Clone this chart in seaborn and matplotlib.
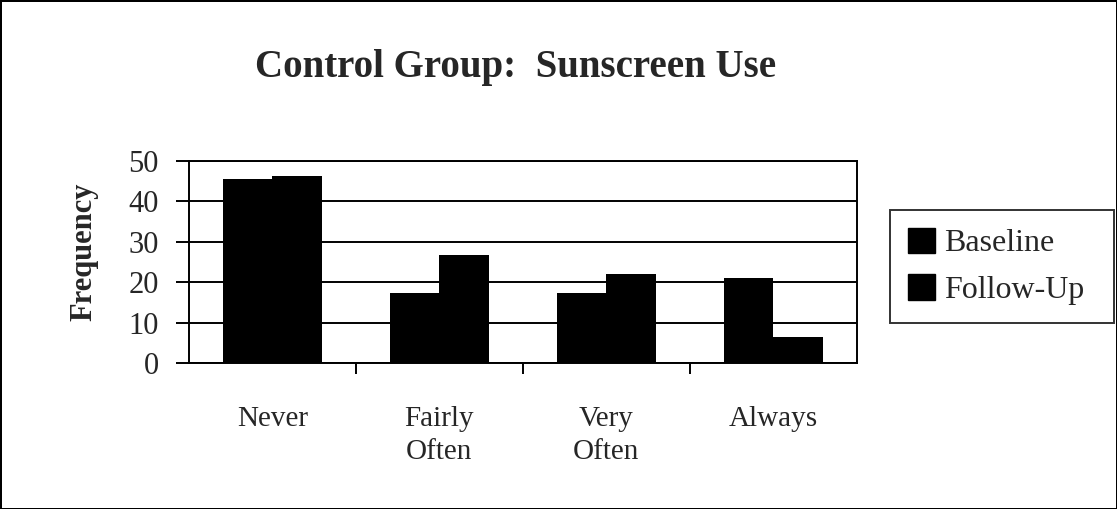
import numpy as np
import pandas as pd
import matplotlib
matplotlib.use("Agg")
import matplotlib.pyplot as plt
import seaborn as sns

categories = ["Never", "Fairly\nOften", "Very\nOften", "Always"]
baseline = [45.5, 17.2, 17.3, 21]
follow_up = [46.2, 26.6, 22, 6.5]
series = ["Baseline", "Follow-Up"]

df = pd.DataFrame({
    "category": categories * 2,
    "group": [series[0]] * 4 + [series[1]] * 4,
    "freq": baseline + follow_up,
})

sns.set_theme(style="white")
plt.rcParams["font.family"] = ["Liberation Serif", "DejaVu Serif"]

fig = plt.figure(figsize=(11.17, 5.09), dpi=100)
ax = fig.add_axes([0.169, 0.287, 0.598, 0.397])

sns.barplot(data=df, x="category", y="freq", hue="group",
            palette=["black", "black"], width=0.59, gap=0, ax=ax,
            edgecolor="black", linewidth=0, legend=False)

ax.set_xlim(-0.5, 3.5)
ax.set_ylim(0, 50)
ax.set_yticks([0, 10, 20, 30, 40, 50])
ax.yaxis.grid(True, color="black", linewidth=1.4)
ax.set_axisbelow(True)
for s in ax.spines.values():
    s.set_color("black")
    s.set_linewidth(1.4)

ax.tick_params(axis="y", which="major", direction="out", length=9.5,
               width=1.4, color="black", labelsize=22, pad=12, left=True)
ax.tick_params(axis="x", which="major", length=0, labelsize=21, pad=31)
ax.set_xticks([0.5, 1.5, 2.5], minor=True)
ax.tick_params(axis="x", which="minor", direction="out", length=8,
               width=1.4, color="black", bottom=True)
for lbl in ax.get_xticklabels():
    lbl.set_linespacing(1.35)

ax.set_xlabel("")
ax.set_ylabel("")
fig.text(84 / 1117, 1 - 252 / 509, "Frequency", rotation=90, ha="center",
         va="center", fontsize=22, fontweight="bold")

handles = [plt.Rectangle((0, 0), 1, 1, color="black") for _ in series]
leg = ax.legend(handles, series, loc="upper left",
                bbox_to_anchor=(890 / 1117, 1 - 319 / 509, 224 / 1117, 109 / 509),
                bbox_transform=fig.transFigure, mode="expand",
                fontsize=23, frameon=True, fancybox=False, edgecolor="black",
                handlelength=0.85, handleheight=0.85, handletextpad=0.3,
                borderpad=0.55, borderaxespad=0, labelspacing=0.5)
leg.get_frame().set_linewidth(1.4)

fig.text(0.462, 1 - 77 / 509, "Control Group:  Sunscreen Use", ha="center",
         va="baseline", fontsize=28, fontweight="bold")

fig.patch.set_edgecolor("black")
fig.patch.set_linewidth(2)
fig.savefig("out.png", dpi=100, edgecolor=fig.get_edgecolor())
